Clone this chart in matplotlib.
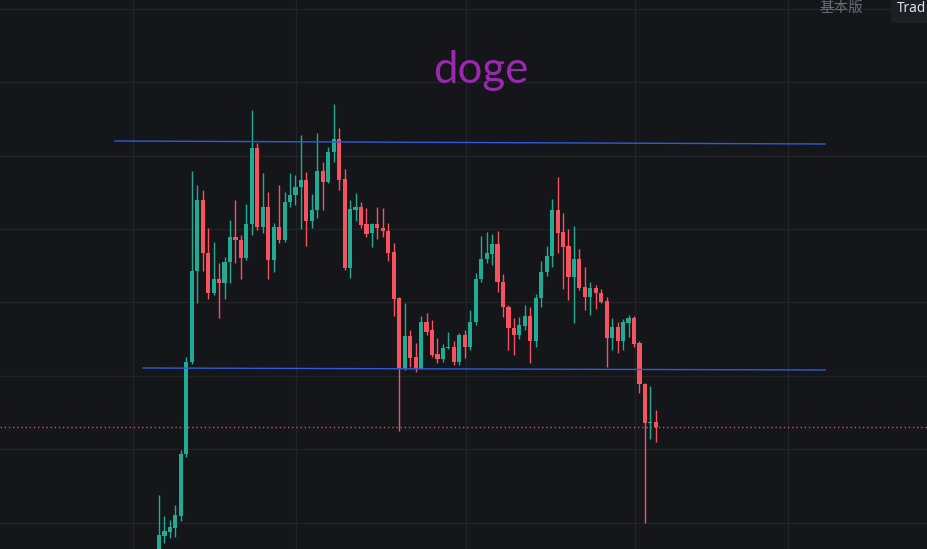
import matplotlib
matplotlib.use("Agg")
import matplotlib.pyplot as plt
import numpy as np
from matplotlib.patches import FancyBboxPatch

# ---- data (price units) ----
opens = [45, 64, 68, 72, 84, 146, 238, 329, 400, 347, 307, 321, 317, 338, 363, 360,
         342, 376, 452, 373, 393, 340, 373, 360, 398, 405, 413, 420, 379, 390, 429, 418,
         448, 461, 421, 332, 390, 393, 376, 367, 376, 372, 369, 348, 302, 231, 264, 243,
         232, 278, 270, 246, 241, 252, 253, 238, 265, 253, 278, 321, 341, 346, 356, 318,
         293, 272, 265, 274, 284, 259, 302, 328, 344, 390, 368, 354, 323, 341, 313, 303,
         312, 307, 299, 262, 273, 259, 277, 282, 257, 216, 177, 178]
highs = [105, 84, 80, 95, 150, 243, 429, 415, 410, 372, 358, 337, 343, 380, 400, 365,
         396, 490, 457, 427, 408, 377, 415, 408, 427, 425, 465, 428, 406, 467, 438, 453,
         496, 472, 431, 400, 407, 398, 392, 377, 393, 392, 377, 357, 303, 297, 270, 257,
         284, 287, 280, 262, 256, 268, 259, 267, 270, 290, 327, 364, 368, 366, 369, 326,
         295, 282, 283, 295, 293, 306, 339, 354, 401, 423, 387, 371, 374, 351, 333, 318,
         315, 311, 303, 282, 278, 281, 285, 284, 259, 217, 214, 190]
lows = [40, 57, 62, 63, 79, 143, 236, 297, 329, 301, 305, 282, 301, 317, 337, 321,
        340, 365, 370, 367, 321, 328, 357, 358, 393, 395, 371, 354, 372, 382, 390, 417,
        438, 410, 330, 322, 379, 372, 363, 353, 361, 363, 339, 284, 169, 230, 233, 228,
        231, 265, 243, 237, 238, 251, 235, 235, 242, 250, 275, 318, 337, 335, 308, 283,
        250, 245, 261, 270, 237, 253, 293, 324, 333, 347, 311, 300, 277, 310, 290, 285,
        291, 297, 233, 250, 247, 250, 263, 253, 207, 77, 161, 158]
closes = [65, 69, 73, 85, 146, 238, 329, 400, 347, 307, 321, 317, 338, 363, 360, 342,
          376, 452, 373, 393, 340, 373, 360, 398, 405, 413, 420, 379, 390, 429, 418, 448,
          461, 420, 332, 391, 393, 375, 366, 376, 372, 369, 347, 301, 231, 264, 242, 232,
          278, 268, 245, 241, 252, 253, 238, 265, 253, 278, 321, 341, 347, 356, 318, 293,
          272, 265, 275, 284, 259, 302, 328, 344, 390, 367, 353, 323, 341, 312, 303, 312,
          307, 298, 262, 273, 259, 278, 282, 256, 216, 177, 178, 173]

title = "doge"
# trend lines drawn on the chart: (bar index, price) anchors
resistance = [(-8.1, 459), (122.0, 456)]
support = [(-2.9, 232), (122.0, 230)]
toolbar_labels = ["基本版", "Trad"]

# ---- style ----
BG = "#151619"
GRID = "#222327"
UP = "#22ab94"
DOWN = "#f7525f"
LINE = "#2f5bd8"

W, H, DPI = 927, 549, 100
fig = plt.figure(figsize=(W / DPI, H / DPI), dpi=DPI, facecolor=BG)
ax = fig.add_axes([0, 0, 1, 1], facecolor=BG)

bar_px = 5.46
x0_px = 159
ax.set_xlim(-x0_px / bar_px, (W - x0_px) / bar_px)
ax.set_ylim(51, 600)

# grid
for g in 77.5 + 73.4 * np.arange(8):
    ax.axhline(g, color=GRID, lw=1, zorder=0)
for g in [-4.76, 25.1, 56.2, 87.2, 115.2]:
    ax.axvline(g, color=GRID, lw=1, zorder=0)

n = len(opens)
idx = np.arange(n)
o = np.array(opens, float)
h = np.array(highs, float)
l = np.array(lows, float)
c = np.array(closes, float)
up = c >= o
cols = np.where(up, UP, DOWN)

ax.vlines(idx, l, h, colors=cols, lw=1, zorder=2)
bottom = np.minimum(o, c)
height = np.maximum(np.abs(c - o), 1.0)
ax.bar(idx, height, bottom=bottom, width=0.76, color=cols, edgecolor=cols,
       linewidth=0, zorder=3)

# trend lines
for pts in (resistance, support):
    xs, ys = zip(*pts)
    ax.plot(xs, ys, color=LINE, lw=1, zorder=4)

# last price line
ax.axhline(closes[-1], color=DOWN, lw=1, ls=(0, (1, 2)), zorder=1, alpha=0.9)

ax.set_xticks([])
ax.set_yticks([])
for s in ax.spines.values():
    s.set_visible(False)

# title
fig.text(481 / W, 1 - 70 / H, title, ha="center", va="center", fontsize=31.5,
         color="#9c27b0", family=["Lato", "DejaVu Sans"])

# top-right toolbar
fig.patches.append(FancyBboxPatch((891 / W, 1 - 23 / H), 60 / W, 40 / H,
                                  boxstyle="round,pad=0,rounding_size=0.006",
                                  transform=fig.transFigure, facecolor="#1e1f24",
                                  edgecolor="none", zorder=5))
fig.text(841 / W, 1 - 8 / H, toolbar_labels[0], ha="center", va="center",
         fontsize=10.5, color="#6a6d78", family=["Noto Sans CJK SC", "DejaVu Sans"])
fig.text(897 / W, 1 - 8 / H, toolbar_labels[1], ha="left", va="center",
         fontsize=9.8, color="#e0e3eb", family=["Noto Sans", "DejaVu Sans"], zorder=6)

fig.savefig("out.png", dpi=DPI, facecolor=BG)
